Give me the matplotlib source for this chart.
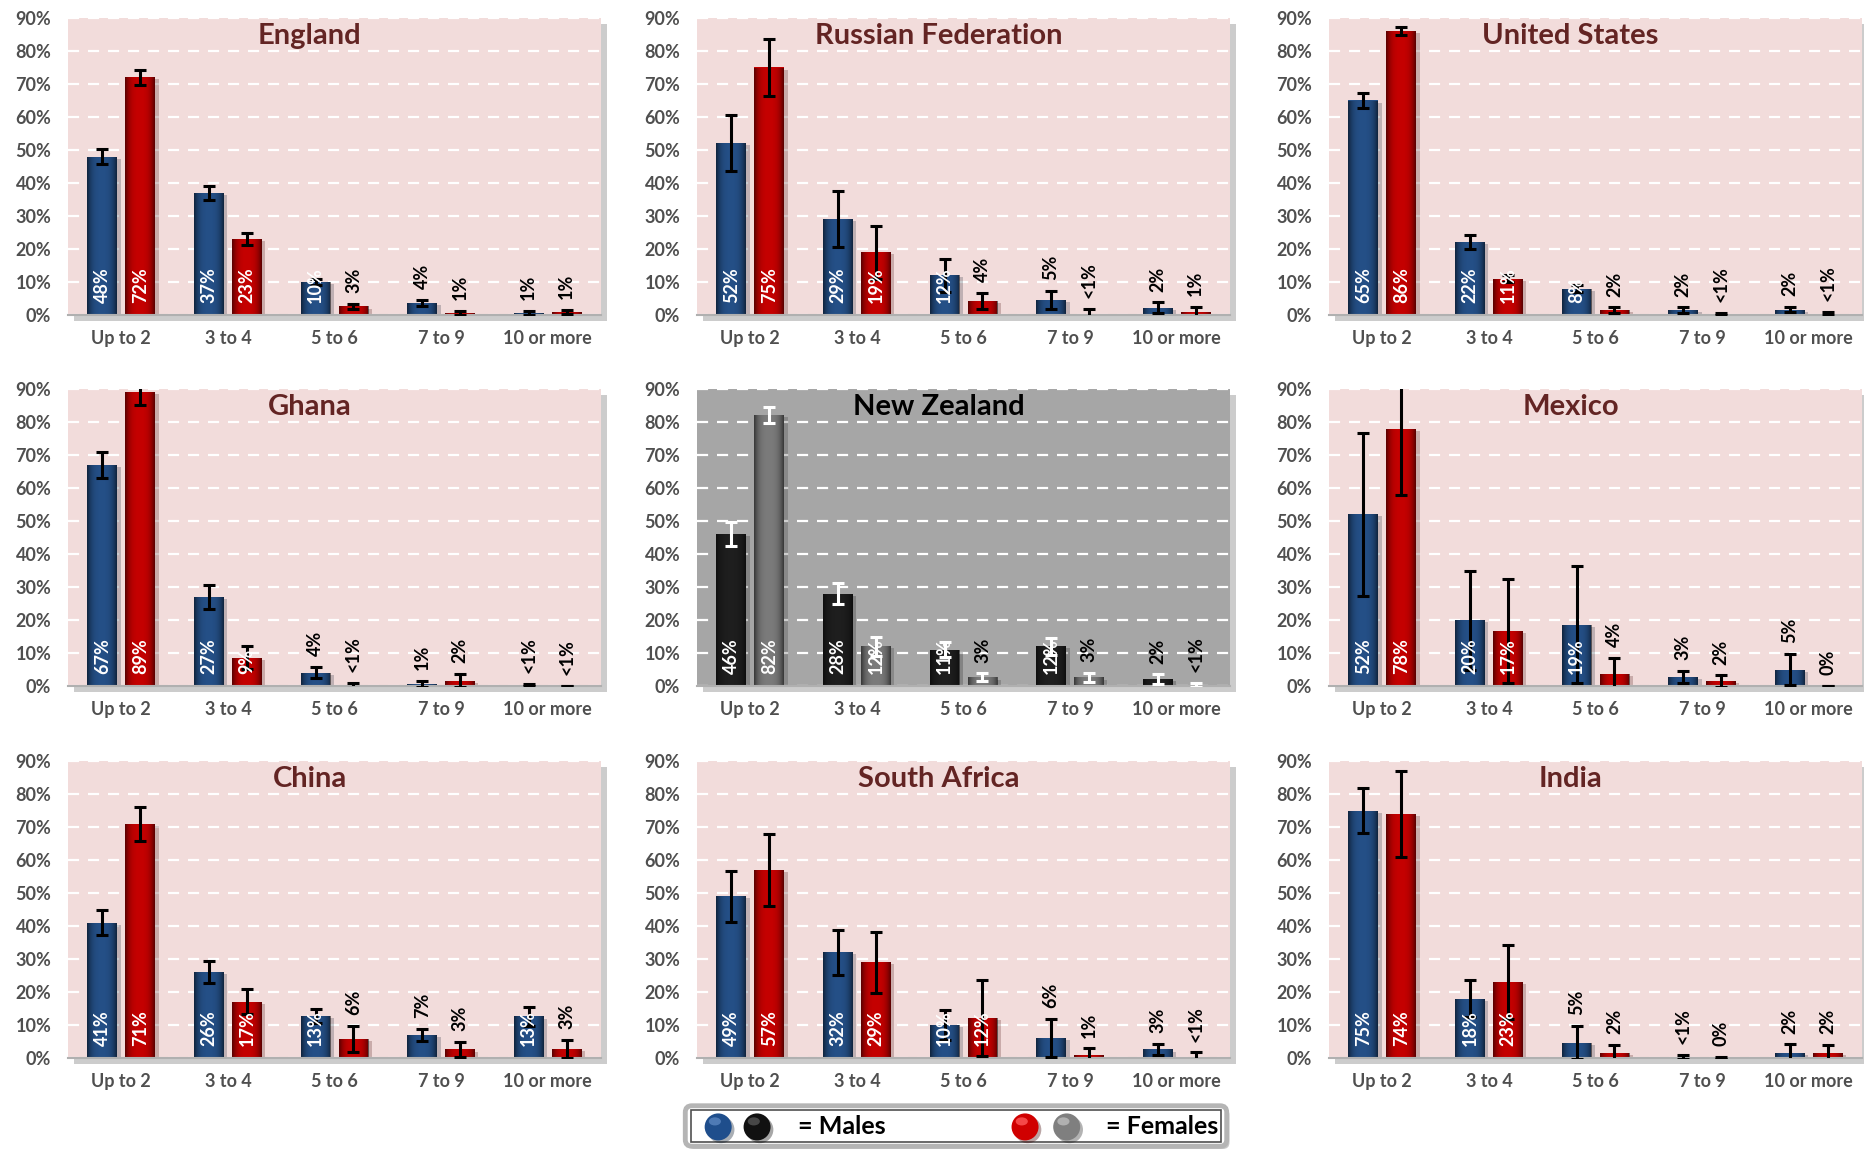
import numpy as np
import matplotlib
matplotlib.use("Agg")
import matplotlib.pyplot as plt
import matplotlib.patheffects as pe
from matplotlib.patches import Rectangle, Ellipse, FancyBboxPatch

categories = ["Up to 2", "3 to 4", "5 to 6", "7 to 9", "10 or more"]
countries = ["England", "Russian Federation", "United States",
             "Ghana", "New Zealand", "Mexico",
             "China", "South Africa", "India"]

# percentages, one row per country
males = [
    [48, 37, 10, 3.6, 0.6],
    [52, 29, 12, 4.6, 2.2],
    [65, 22, 8, 1.5, 1.6],
    [67, 27, 4, 0.6, 0.3],
    [46, 28, 11, 12, 2],
    [52, 20, 18.6, 2.8, 5],
    [41, 26, 12.7, 7, 12.6],
    [49, 32, 10, 6, 2.6],
    [75, 18, 4.6, 0.3, 1.6],
]
females = [
    [72, 23, 2.6, 0.6, 0.9],
    [75, 19, 4.2, 0.4, 1.0],
    [86, 11, 1.5, 0.3, 0.4],
    [89, 8.6, 0.2, 1.6, 0.1],
    [82, 12, 2.6, 2.6, 0.3],
    [78, 16.6, 3.6, 1.5, 0],
    [71, 17, 5.8, 2.6, 2.8],
    [57, 29, 12, 0.9, 0.4],
    [74, 23, 1.5, 0, 1.5],
]
males_err = [
    [2.3, 2.1, 1.0, 1.0, 0.5],
    [8.5, 8.5, 5.0, 2.8, 1.6],
    [2.3, 2.1, 1.0, 0.8, 0.8],
    [4.0, 3.7, 1.7, 0.8, 0.4],
    [3.6, 3.3, 2.2, 2.6, 1.5],
    [24.6, 15.0, 17.8, 1.8, 4.8],
    [3.8, 3.4, 2.2, 1.7, 2.8],
    [7.7, 6.7, 4.6, 5.8, 1.6],
    [6.7, 5.7, 5.0, 0.5, 2.5],
]
females_err = [
    [2.3, 1.9, 0.8, 0.5, 0.6],
    [8.7, 8.0, 2.5, 1.3, 1.5],
    [1.2, 1.0, 0.8, 0.3, 0.5],
    [3.7, 3.4, 0.8, 2.0, 0.0],
    [2.4, 2.8, 1.2, 1.4, 0.5],
    [20.0, 15.8, 5.0, 1.7, 0.0],
    [5.2, 3.8, 4.0, 2.2, 2.7],
    [10.9, 9.3, 11.5, 2.0, 1.3],
    [13.0, 11.2, 2.5, 0.2, 2.5],
]

plt.rcParams["font.family"] = ["Lato", "DejaVu Sans"]

W, H = 1865, 1150
COL_LEFT = [68, 697, 1329]
ROW_TOP = [18, 389, 761]
AX_W, AX_H = 533, 297

# horizontal shading that gives the bars their rounded look
_x = np.linspace(-1, 1, 60)
GRAD = np.zeros((1, 60, 4))
GRAD[0, :, 3] = 0.55 * np.abs(_x) ** 3


def label_text(v):
    if v == 0:
        return "0%"
    if v < 0.5:
        return "<1%"
    return f"{v:.0f}%"


def shade(ax, bars):
    for b in bars:
        x0, y0 = b.get_xy()
        w, h = b.get_width(), b.get_height()
        if h <= 0:
            continue
        im = ax.imshow(GRAD, extent=[x0, x0 + w, y0, y0 + h], aspect="auto",
                       zorder=2.1, interpolation="bilinear")
        im.set_clip_path(b)


def draw_panel(ax, name, m, f, me, fe, grey=False):
    bg = "#a6a6a6" if grey else "#f2dcdb"
    c_m = "#1e1e1e" if grey else "#244f86"
    c_f = "#7a7a7a" if grey else "#c40000"
    c_err = "white" if grey else "black"
    c_title = "black" if grey else "#632423"

    ax.set_facecolor(bg)
    ax.patch.set_path_effects([
        pe.SimplePatchShadow(offset=(4, -4), shadow_rgbFace="#808080", alpha=0.4),
        pe.Normal()])

    x = np.arange(len(categories))
    bw, off = 0.28, 0.178
    shadow = [pe.SimplePatchShadow(offset=(2.5, -1.5), alpha=0.22), pe.Normal()]
    for vals, errs, dx, col in [(m, me, -off, c_m), (f, fe, off, c_f)]:
        bars = ax.bar(x + dx, vals, bw, color=col, zorder=2)
        for b in bars:
            b.set_path_effects(shadow)
        shade(ax, bars)
        ax.errorbar(x + dx, vals, yerr=errs, fmt="none", ecolor=c_err,
                    elinewidth=2.2, capsize=4.5, capthick=2.2, zorder=3)
        for xi, v, e in zip(x + dx, vals, errs):
            if v >= 8:
                ax.text(xi, 3.6, label_text(v), rotation=90, ha="center",
                        va="bottom", color="white", fontsize=13,
                        fontweight="bold", zorder=4)
            else:
                ax.text(xi, v + e + 3.3, label_text(v), rotation=90,
                        ha="center", va="bottom", color="black",
                        fontsize=13, fontweight="bold", zorder=4)

    ax.set_xlim(-0.5, len(categories) - 0.5)
    ax.set_ylim(0, 90)
    ax.set_yticks(np.arange(0, 91, 10))
    ax.set_yticklabels([f"{t}%" for t in range(0, 91, 10)])
    ax.set_xticks(x)
    ax.set_xticklabels(categories)
    ax.tick_params(length=0, labelsize=13, labelcolor="#4f4f4f")
    ax.tick_params(axis="y", pad=12)
    ax.tick_params(axis="x", pad=11)
    for lab in ax.get_xticklabels() + ax.get_yticklabels():
        lab.set_fontweight("bold")
    ax.set_axisbelow(True)
    ax.yaxis.grid(True, color="white", linestyle=(0, (5, 4)), linewidth=1.6)
    for s in ["top", "right", "left"]:
        ax.spines[s].set_visible(False)
    ax.spines["bottom"].set_color("#b0b0b0")
    ax.spines["bottom"].set_linewidth(1.5)

    ax.text(0.5 - 25 / AX_W, 1 - 18 / AX_H, name, transform=ax.transAxes,
            ha="center", va="center", fontsize=21, fontweight="bold",
            color=c_title, zorder=5)


fig = plt.figure(figsize=(W / 100, H / 100), dpi=100)
for i, name in enumerate(countries):
    r, c = divmod(i, 3)
    ax = fig.add_axes([COL_LEFT[c] / W, 1 - (ROW_TOP[r] + AX_H) / H,
                       AX_W / W, AX_H / H])
    draw_panel(ax, name, males[i], females[i], males_err[i], females_err[i],
               grey=(name == "New Zealand"))

# legend box
lw_px, lh_px = 548, 46
lax = fig.add_axes([682 / W, 1 - 1149 / H, lw_px / W, lh_px / H])
lax.set_xlim(0, 1)
lax.set_ylim(0, 1)
lax.axis("off")
lax.add_patch(FancyBboxPatch((0.006, 0.06), 0.988, 0.88,
                             boxstyle="round,pad=0,rounding_size=0.012",
                             facecolor="white", edgecolor="#b5b5b5", linewidth=3.5,
                             mutation_aspect=lw_px / lh_px,
                             path_effects=[pe.SimplePatchShadow(offset=(2, -2), alpha=0.3),
                                           pe.Normal()]))
lax.add_patch(Rectangle((0.016, 0.16), 0.968, 0.68, facecolor="none",
                        edgecolor="#505050", linewidth=1.2))
d = 27
for cx, col, hi in [(0.066, "#1f4e8c", "#5b86c0"), (0.137, "#111111", "#555555"),
                    (0.626, "#d00000", "#ff5a5a"), (0.702, "#7f7f7f", "#bdbdbd")]:
    lax.add_patch(Ellipse((cx, 0.48), d / lw_px, d / lh_px, facecolor=col,
                          edgecolor="none",
                          path_effects=[pe.SimplePatchShadow(offset=(2, -2), alpha=0.35),
                                        pe.Normal()]))
    lax.add_patch(Ellipse((cx - 0.006, 0.6), 0.45 * d / lw_px, 0.3 * d / lh_px,
                          facecolor=hi, edgecolor="none", alpha=0.8))
lax.text(0.212, 0.48, "= Males", ha="left", va="center", fontsize=18,
         fontweight="bold", color="black")
lax.text(0.774, 0.48, "= Females", ha="left", va="center", fontsize=18,
         fontweight="bold", color="black")

fig.savefig("out.png", dpi=100)
